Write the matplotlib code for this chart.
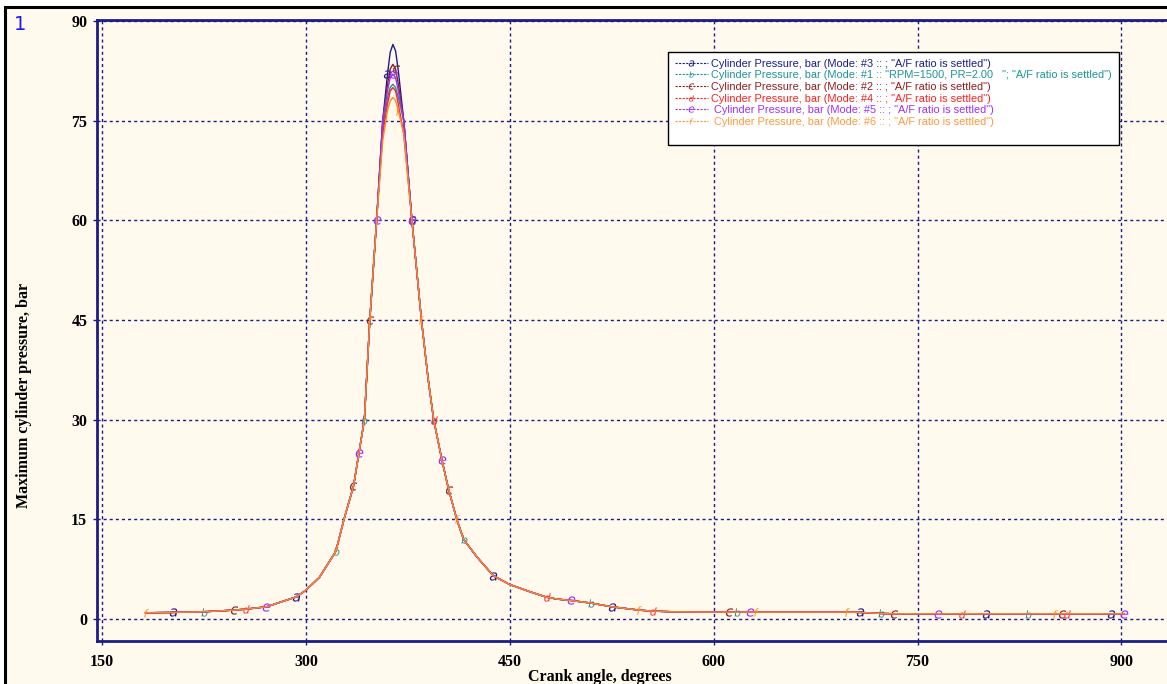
import matplotlib
matplotlib.use("Agg")
import matplotlib.pyplot as plt
from matplotlib.lines import Line2D
from matplotlib.patches import Rectangle

# ---------------- data ----------------
crank_angle = [182, 202, 225, 247, 256, 271, 293, 300, 310, 318, 322, 328, 335, 339,
               343, 347, 352, 356.5, 360, 362, 364, 366, 368, 372, 378, 385, 390, 394, 400, 405,
               411, 416, 426, 438, 450, 465, 477, 485, 495, 510, 525, 545, 555, 570,
               600, 611, 617, 627, 631, 650, 698, 708, 723, 733, 750, 765, 783, 800,
               831, 851, 856, 860, 892, 902]

# shared part of the curves (all modes coincide away from the peak)
flank_left = [0.95, 1.0, 1.1, 1.35, 1.5, 1.85, 3.35, 4.35, 6.3, 8.9, 10.2, 15, 20, 25,
              30, 45, 60]
flank_right = [60, 45, 36, 30, 24, 19.5,
               15, 12, 9.3, 6.5, 5.2, 4.1, 3.3, 3.0, 2.8, 2.4, 1.85, 1.35, 1.2, 1.1,
               1.05, 1.05, 1.05, 1.05, 1.05, 1.05, 1.05, 1.0, 0.85, 0.8, 0.8, 0.8, 0.8, 0.8,
               0.8, 0.8, 0.8, 0.8, 0.8, 0.8]

# values around the peak (angles 356.5, 360, 362, 364, 366, 368, 372) for each mode
peak_a = [75, 82, 85.3, 86.5, 85.5, 82.5, 75]
peak_b = [74, 78.5, 80, 80.5, 80, 78.5, 75]
peak_c = [75, 80.5, 82.8, 83.5, 82.8, 80.5, 75]
peak_d = [73, 77.5, 79.5, 80, 79.5, 77.5, 73]
peak_e = [75, 79.5, 81.5, 82, 81.5, 79.5, 75]
peak_f = [72, 76.5, 78, 78.5, 78, 76.5, 73]

series_letters = ["a", "b", "c", "d", "e", "f"]
series_labels = [
    'Cylinder Pressure, bar (Mode: #3 :: ; "A/F ratio is settled")',
    'Cylinder Pressure, bar (Mode: #1 :: "RPM=1500, PR=2.00   "; "A/F ratio is settled")',
    'Cylinder Pressure, bar (Mode: #2 :: ; "A/F ratio is settled")',
    'Cylinder Pressure, bar (Mode: #4 :: ; "A/F ratio is settled")',
    ' Cylinder Pressure, bar (Mode: #5 :: ; "A/F ratio is settled")',
    ' Cylinder Pressure, bar (Mode: #6 :: ; "A/F ratio is settled")',
]
series_peaks = [peak_a, peak_b, peak_c, peak_d, peak_e, peak_f]
series_colors = ["#1c1c8c", "#1f9494", "#8e1f1f", "#ff2020", "#9b30ff", "#ff8a1f"]
legend_colors = ["#1c1c8c", "#1f9494", "#8e1f1f", "#ff2020", "#9b30ff", "#ff9a3a"]

# positions (indices into crank_angle) of the letter markers along each curve
marker_idx = {
    "a": [1, 6, 18, 24, 33, 40, 51, 57, 62],
    "b": [2, 10, 14, 27, 31, 39, 46, 52, 58],
    "c": [3, 12, 15, 21, 24, 29, 45, 53, 60],
    "d": [4, 27, 36, 42, 56, 61],
    "e": [5, 13, 16, 20, 24, 28, 38, 47, 55, 63],
    "f": [0, 10, 15, 22, 25, 30, 41, 48, 50, 59],
}

x_ticks = [150, 300, 450, 600, 750, 900]
y_ticks = [0, 15, 30, 45, 60, 75, 90]

# ---------------- figure ----------------
W, H = 1167, 684
fig = plt.figure(figsize=(W / 100, H / 100), dpi=100, facecolor="white")
bg = "#fff9ee"
navy = "#1c1c86"

# cream panel with black frame (cut by the right/bottom image edges)
fig.patches.append(Rectangle((4.5 / W, -0.1), 1.2, 1.1 - 6.5 / H, transform=fig.transFigure,
                             facecolor=bg, edgecolor="black", linewidth=2.2, zorder=-5))

ax = fig.add_axes([97 / W, (H - 641) / H, (W - 97) / W, (641 - 19.5) / H])
ax.set_facecolor(bg)

for letter, label, peak, col in zip(series_letters, series_labels, series_peaks, series_colors):
    p = flank_left + peak + flank_right
    ax.plot(crank_angle, p, color=col, lw=1.0, marker="$" + letter + "$", markersize=6,
            markevery=marker_idx[letter], markeredgewidth=0, label=label)

ax.set_xlim(146.3, 933.5)
ax.set_ylim(-3.3, 90.25)
ax.set_xticks(x_ticks)
ax.set_yticks(y_ticks)
ax.grid(True, color=navy, linestyle=(0, (2.2, 2.2)), linewidth=1.0)
ax.set_axisbelow(True)

for side in ["left", "bottom", "top"]:
    ax.spines[side].set_color(navy)
    ax.spines[side].set_linewidth(2.0)
ax.spines["right"].set_visible(False)

tick_font = dict(family="Liberation Serif", weight="bold", size=11.5)
ax.tick_params(axis="both", length=3, color=navy, width=1)
ax.tick_params(axis="x", pad=6)
ax.tick_params(axis="y", pad=4)
for lab in ax.get_xticklabels() + ax.get_yticklabels():
    lab.set_fontfamily("Liberation Serif")
    lab.set_fontweight("bold")
    lab.set_fontsize(11.5)

fig.text(600 / W, 1 - 677 / H, "Crank angle, degrees", ha="center", va="center", **tick_font)
fig.text(24 / W, 1 - 395 / H, "Maximum cylinder pressure, bar", ha="center", va="center",
         rotation=90, **tick_font)
fig.text(20 / W, 1 - 25 / H, "1", ha="center", va="center", color="#1a1aff",
         family="DejaVu Sans", size=14)

# legend (last blank row gives the extra bottom margin of the original box)
handles = []
for letter, col in zip(series_letters, legend_colors):
    handles.append(Line2D([0], [0], color=col, lw=0.8, linestyle=(0, (2.0, 1.2)),
                          marker="$" + letter + "$", markersize=4.5, markeredgewidth=0))
handles.append(Line2D([0], [0], color="none", lw=0))
leg = ax.legend(handles, series_labels + [" "], loc="upper left",
                bbox_to_anchor=(668 / W, 1 - 52 / H), bbox_transform=fig.transFigure,
                prop=dict(family="Liberation Sans", size=7.9),
                frameon=True, fancybox=False, shadow=False, framealpha=1,
                facecolor="white", edgecolor="black", handlelength=3.0,
                handletextpad=0.35, labelspacing=0.15, borderpad=0.6, borderaxespad=0)
leg.get_frame().set_linewidth(1.0)
for txt, col in zip(leg.get_texts(), legend_colors):
    txt.set_color(col)

fig.savefig("out.png", dpi=100, facecolor=fig.get_facecolor())
